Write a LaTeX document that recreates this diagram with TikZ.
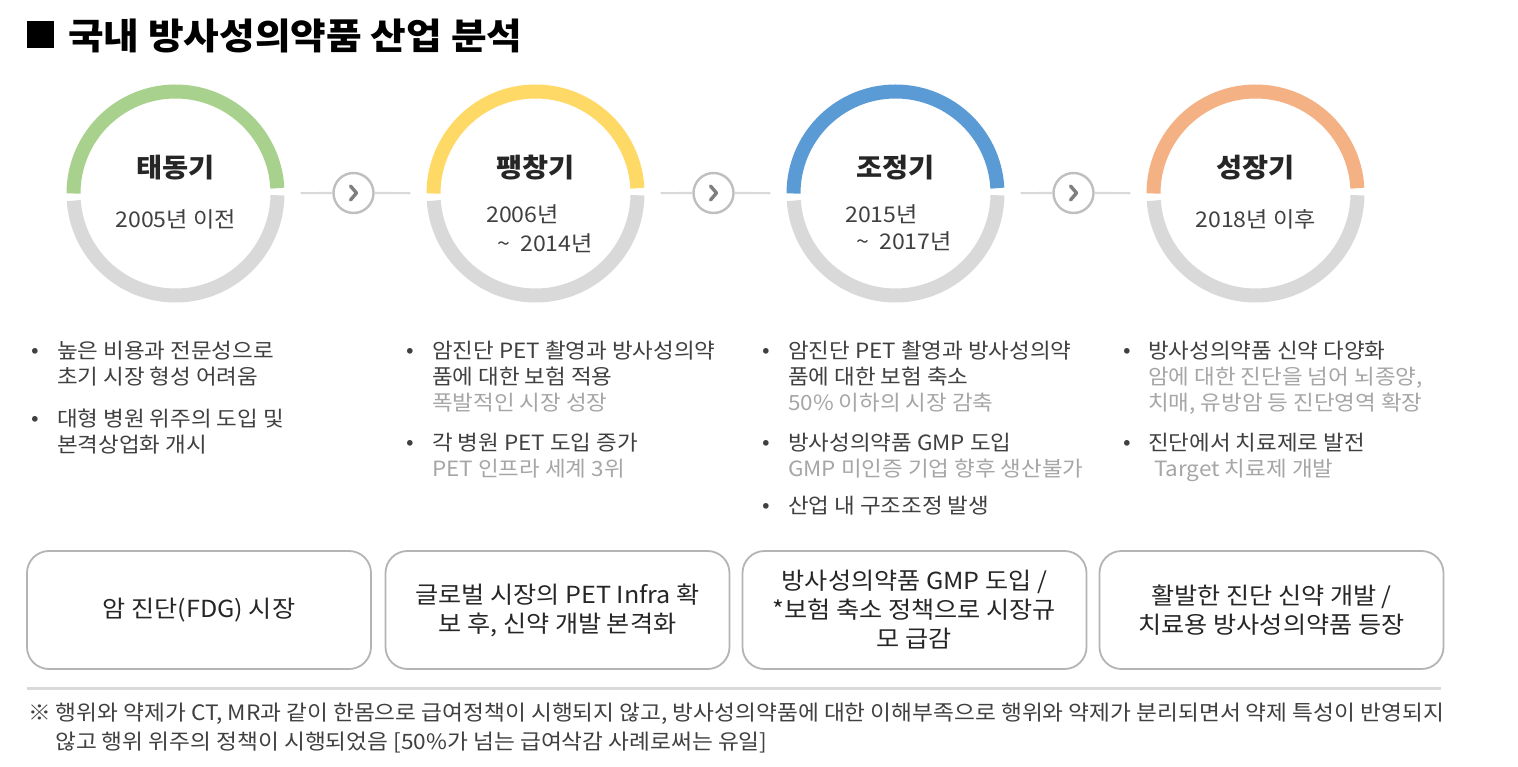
\documentclass[tikz,border=0pt]{standalone}
\usepackage{fontspec}
\setmainfont[FakeStretch=1.07]{Noto Sans CJK KR}
\definecolor{cGreen}{HTML}{A9D18E}
\definecolor{cYellow}{HTML}{FFD966}
\definecolor{cBlue}{HTML}{5B9BD5}
\definecolor{cOrange}{HTML}{F4B183}
\definecolor{cRing}{HTML}{D9D9D9}
\definecolor{cTxt}{HTML}{404040}
\definecolor{cHead}{HTML}{262626}
\definecolor{cSub}{HTML}{A6A6A6}
\definecolor{cBox}{HTML}{B4B4B4}
\definecolor{cChev}{HTML}{7F7F7F}
\definecolor{cChevB}{HTML}{BFBFBF}
\begin{document}
\begin{tikzpicture}[x=1pt,y=-1pt,
  ring/.style={line width=14pt},
  ringarea/.style={circle, minimum size=250pt, inner sep=0pt},
  chev/.style={circle, draw=cChevB, line width=2.4pt, minimum size=40pt, inner sep=0pt, fill=white},
  chevmark/.style={draw=cChev, line width=3.4pt, line cap=round, line join=round},
  link/.style={draw=cRing, line width=2.2pt},
  ttl/.style={font=\fontsize{26.5}{30}\selectfont\bfseries, text=cHead, inner sep=0pt},
  subt/.style={font=\fontsize{21.6}{29}\selectfont, text=cTxt, inner sep=0pt},
  blt/.style={font=\fontsize{21}{26}\selectfont, text=cTxt, inner sep=0pt, anchor=base},
  bullitem/.style={font=\fontsize{21}{26}\selectfont, text=cTxt, inner sep=0pt, anchor=north west, align=left},
  stagebox/.style={draw=cBox, line width=1.8pt, rounded corners=22pt, minimum width=344pt, minimum height=118pt, align=center, font=\fontsize{23.5}{29}\selectfont, text=cHead},
  sepline/.style={draw=cRing, line width=3pt},
  note/.style={font=\fontsize{21.2}{29}\selectfont, text=cTxt, inner sep=0pt, anchor=west}
]
\useasboundingbox (0,0) rectangle (1518,767);
\fill[white] (0,0) rectangle (1518,767);

% title
\node[fill=black, minimum size=27pt, inner sep=0pt] (sq) at (40.5,34.5) {};
\node[font=\fontsize{36.2}{42}\selectfont\bfseries, anchor=west, inner sep=0pt] (title) at (68,36) {국내 방사성의약품 산업 분석};

% ring areas
\node[ringarea] (c1) at (175.5,193.5) {};
\node[ringarea] (c2) at (535.5,193.5) {};
\node[ringarea] (c3) at (895.5,193.5) {};
\node[ringarea] (c4) at (1255.5,193.5) {};

% rings
\draw[ring, cGreen]  (c1.center) ++(-3:102) arc[start angle=-3, end angle=-180, radius=102];
\draw[ring, cRing]   (c1.center) ++(176:102) arc[start angle=176, end angle=1, radius=102];
\draw[ring, cYellow] (c2.center) ++(-3:102) arc[start angle=-3, end angle=-180, radius=102];
\draw[ring, cRing]   (c2.center) ++(176:102) arc[start angle=176, end angle=1, radius=102];
\draw[ring, cBlue]   (c3.center) ++(-3:102) arc[start angle=-3, end angle=-180, radius=102];
\draw[ring, cRing]   (c3.center) ++(176:102) arc[start angle=176, end angle=1, radius=102];
\draw[ring, cOrange] (c4.center) ++(-3:102) arc[start angle=-3, end angle=-180, radius=102];
\draw[ring, cRing]   (c4.center) ++(176:102) arc[start angle=176, end angle=1, radius=102];

% ring texts
\node[ttl] (t1) at (175.5,168) {태동기};
\node[subt] (s1) at (175.5,219) {2005년 이전};
\node[ttl] (t2) at (535.5,168) {팽창기};
\node[subt, anchor=west] (s2a) at (486,214) {2006년};
\node[subt, anchor=east] (s2b) at (593,243) {\textasciitilde\hspace{10pt}2014년};
\node[ttl] (t3) at (895.5,168) {조정기};
\node[subt, anchor=west] (s3a) at (845,214) {2015년};
\node[subt, anchor=east] (s3b) at (952,241) {\textasciitilde\hspace{10pt}2017년};
\node[ttl] (t4) at (1255.5,168) {성장기};
\node[subt] (s4) at (1255.5,219) {2018년 이후};

% chevrons
\node[chev] (a1) at (353.5,193) {};
\node[chev] (a2) at (713.5,193) {};
\node[chev] (a3) at (1073.5,193) {};
\draw[link] (c1) -- (a1);
\draw[link] (a1) -- (c2);
\draw[link] (c2) -- (a2);
\draw[link] (a2) -- (c3);
\draw[link] (c3) -- (a3);
\draw[link] (a3) -- (c4);
\draw[chevmark] (a1.center) ++(-3,-7) -- ++(6,7) -- ++(-6,7);
\draw[chevmark] (a2.center) ++(-3,-7) -- ++(6,7) -- ++(-6,7);
\draw[chevmark] (a3.center) ++(-3,-7) -- ++(6,7) -- ++(-6,7);

% bullets column 1
\node[blt] (d1) at (35,357.8) {•};
\node[bullitem] (b1) at (57,339.6) {\strut 높은 비용과 전문성으로\\초기 시장 형성 어려움};
\node[blt] (d2) at (35,425.8) {•};
\node[bullitem] (b2) at (57,407.6) {\strut 대형 병원 위주의 도입 및\\본격상업화 개시};
% column 2
\node[blt] (d3) at (410,357.8) {•};
\node[bullitem] (b3) at (432,339.6) {\strut 암진단 PET 촬영과 방사성의약\\품에 대한 보험 적용\\{\color{cSub}폭발적인 시장 성장}};
\node[blt] (d4) at (410,449.8) {•};
\node[bullitem] (b4) at (432,431.6) {\strut 각 병원 PET 도입 증가\\{\color{cSub}PET 인프라 세계 3위}};
% column 3
\node[blt] (d5) at (766,357.8) {•};
\node[bullitem] (b5) at (788,339.6) {\strut 암진단 PET 촬영과 방사성의약\\품에 대한 보험 축소\\{\color{cSub}50\% 이하의 시장 감축}};
\node[blt] (d6) at (766,449.8) {•};
\node[bullitem] (b6) at (788,431.6) {\strut 방사성의약품 GMP 도입\\{\color{cSub}GMP 미인증 기업 향후 생산불가}};
\node[blt] (d7) at (766,512.8) {•};
\node[bullitem] (b7) at (788,494.6) {\strut 산업 내 구조조정 발생};
% column 4
\node[blt] (d8) at (1127,357.8) {•};
\node[bullitem] (b8) at (1148,339.6) {\strut 방사성의약품 신약 다양화\\{\color{cSub}암에 대한 진단을 넘어 뇌종양,}\\{\color{cSub}치매, 유방암 등 진단영역 확장}};
\node[blt] (d9) at (1127,449.8) {•};
\node[bullitem] (b9) at (1148,431.6) {\strut 진단에서 치료제로 발전\\{\color{cSub}\hspace{6pt}Target 치료제 개발}};

% stage boxes
\node[stagebox] (k1) at (199,610) {암 진단(FDG) 시장};
\node[stagebox] (k2) at (557.5,610) {글로벌 시장의 PET Infra 확\\보 후, 신약 개발 본격화};
\node[stagebox] (k3) at (914.5,610) {방사성의약품 GMP 도입 /\\*보험 축소 정책으로 시장규\\모 급감};
\node[stagebox] (k4) at (1271.5,610) {활발한 진단 신약 개발 /\\치료용 방사성의약품 등장};

% separator and note
\coordinate (sl) at (27,688);
\coordinate (sr) at (1441,688);
\draw[sepline] (sl) -- (sr);
\node[note] (n1) at (28,714) {※ 행위와 약제가 CT, MR과 같이 한몸으로 급여정책이 시행되지 않고, 방사성의약품에 대한 이해부족으로 행위와 약제가 분리되면서 약제 특성이 반영되지};
\node[note] (n2) at (55,743) {않고 행위 위주의 정책이 시행되었음 [50\%가 넘는 급여삭감 사례로써는 유일]};
\end{tikzpicture}
\end{document}
